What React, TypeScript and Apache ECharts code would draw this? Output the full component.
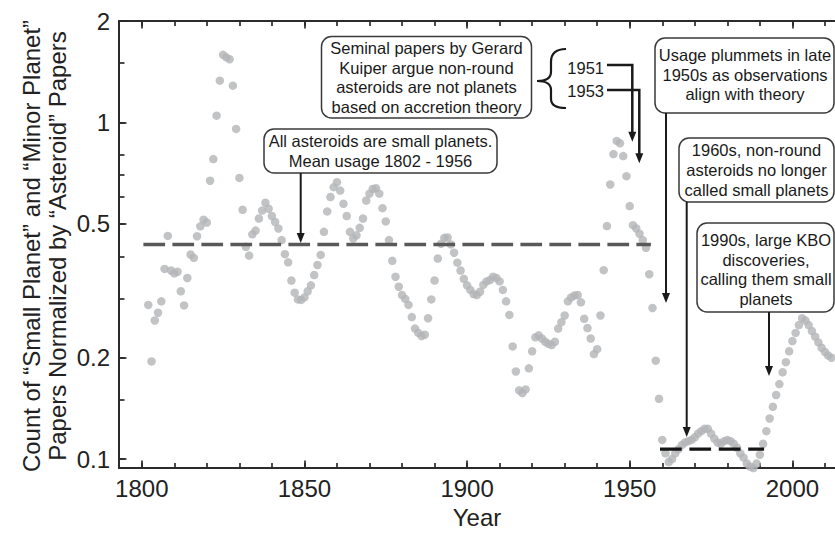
import React, { useEffect, useRef } from "react";
import * as echarts from "echarts";

const FIRST_YEAR = 1802;
// Count of "Small Planet" and "Minor Planet" papers normalized by "Asteroid" papers, 1802-2012
const usageRatio: number[] = [
  0.287, 0.195, 0.258, 0.272, 0.294, 0.367, 0.46, 0.363, 0.356, 0.36, // 1802-1811
  0.315, 0.286, 0.345, 0.405, 0.396, 0.459, 0.491, 0.514, 0.504, 0.671, // 1812-1821
  0.778, 1.047, 1.33, 1.587, 1.56, 1.54, 1.285, 0.956, 0.684, 0.55, // 1822-1831
  0.427, 0.402, 0.465, 0.477, 0.518, 0.547, 0.577, 0.554, 0.527, 0.506, // 1832-1841
  0.484, 0.447, 0.406, 0.384, 0.339, 0.312, 0.298, 0.297, 0.302, 0.315, // 1842-1851
  0.328, 0.352, 0.377, 0.404, 0.473, 0.544, 0.6, 0.642, 0.664, 0.627, // 1852-1861
  0.573, 0.527, 0.473, 0.452, 0.462, 0.486, 0.518, 0.586, 0.614, 0.634, // 1862-1871
  0.637, 0.614, 0.556, 0.508, 0.447, 0.388, 0.348, 0.325, 0.307, 0.299, // 1872-1881
  0.287, 0.264, 0.244, 0.237, 0.232, 0.234, 0.262, 0.298, 0.339, 0.394, // 1882-1891
  0.436, 0.454, 0.455, 0.434, 0.41, 0.383, 0.363, 0.343, 0.328, 0.318, // 1892-1901
  0.309, 0.307, 0.314, 0.329, 0.337, 0.34, 0.348, 0.345, 0.337, 0.318, // 1902-1911
  0.294, 0.268, 0.216, 0.182, 0.16, 0.157, 0.161, 0.186, 0.209, 0.23, // 1912-1921
  0.233, 0.228, 0.223, 0.22, 0.218, 0.223, 0.244, 0.255, 0.267, 0.294, // 1922-1931
  0.302, 0.306, 0.307, 0.292, 0.261, 0.245, 0.228, 0.205, 0.212, 0.267, // 1932-1941
  0.364, 0.492, 0.654, 0.805, 0.881, 0.867, 0.794, 0.692, 0.564, 0.495, // 1942-1951
  0.484, 0.467, 0.447, 0.424, 0.354, 0.281, 0.196, 0.151, 0.114, 0.104, // 1952-1961
  0.098, 0.1, 0.104, 0.107, 0.11, 0.112, 0.113, 0.114, 0.116, 0.119, // 1962-1971
  0.121, 0.123, 0.123, 0.119, 0.115, 0.112, 0.111, 0.113, 0.114, 0.113, // 1972-1981
  0.111, 0.108, 0.104, 0.101, 0.097, 0.095, 0.094, 0.097, 0.103, 0.111, // 1982-1991
  0.121, 0.132, 0.143, 0.155, 0.167, 0.181, 0.194, 0.209, 0.224, 0.237, // 1992-2001
  0.25, 0.262, 0.258, 0.25, 0.24, 0.231, 0.222, 0.214, 0.208, 0.203, // 2002-2011
  0.2, // 2012
];
const years = usageRatio.map((_, i) => FIRST_YEAR + i);

// Mean usage 1802-1956 and the 1960-1990 level
const meanUsageYears = [1800.5, 1956.5];
const meanUsageValue = 0.434;
const lowUsageYears = [1959.3, 1991.3];
const lowUsageValue = 0.107;

// Axis ticks and labels
const xMinorTicks = [1800, 1810, 1820, 1830, 1840, 1850, 1860, 1870, 1880, 1890, 1900, 1910, 1920, 1930, 1940, 1950, 1960, 1970, 1980, 1990, 2000, 2010];
const xMajorTicks = [1800, 1850, 1900, 1950, 2000];
const yMinorTicks = [0.1, 0.15, 0.2, 0.3, 0.4, 0.5, 0.6, 0.7, 0.8, 1, 1.5, 2];
const yMajorTicks = [0.1, 0.2, 0.5, 1, 2];

const FONT = '"Liberation Sans", Arial, Helvetica, sans-serif';
const AXIS = "#2b2b2b";
const INK = "#1a1a1a";
const BOX = "#3a3a3a";

const BRACE_PATH =
  "M566,49 C556,49 551,53 551,62 L551,72 C551,78 546,81 537,81 C546,81 551,84 551,90 L551,99 C551,105 556,108 566,108";

function box(x: number, y: number, w: number, h: number) {
  return {
    type: "rect",
    shape: { x, y, width: w, height: h, r: 10 },
    style: { fill: "#ffffff", stroke: BOX, lineWidth: 1.5 },
    z: 100,
  };
}
function note(x: number, y: number, text: string) {
  return {
    type: "text",
    x,
    y,
    style: {
      text,
      font: `16.5px ${FONT}`,
      fill: INK,
      align: "center",
      verticalAlign: "middle",
      lineHeight: 19.8,
    },
    z: 101,
  };
}
function head(x: number, tipY: number) {
  return {
    type: "polygon",
    shape: { points: [[x - 4, tipY - 10], [x + 4, tipY - 10], [x, tipY]] },
    style: { fill: INK },
    z: 100,
  };
}
function arrow(x: number, y1: number, tipY: number, width = 2) {
  return [
    { type: "line", shape: { x1: x, y1, x2: x, y2: tipY - 8 }, style: { stroke: INK, lineWidth: width }, z: 100 },
    head(x, tipY),
  ];
}
function elbow(x0: number, y: number, x: number, tipY: number) {
  return [
    {
      type: "polyline",
      shape: { points: [[x0, y], [x, y], [x, tipY - 8]] },
      style: { stroke: INK, lineWidth: 2.5, fill: null },
      z: 100,
    },
    head(x, tipY),
  ];
}

function xAxisBase(position: string) {
  return {
    type: "value",
    min: 1793,
    max: 2013.1,
    position,
    splitLine: { show: false },
    axisLine: { show: false, onZero: false },
    axisLabel: { show: false },
    axisTick: { show: false },
  };
}
function yAxisBase() {
  return {
    type: "log",
    logBase: 10,
    min: 0.094,
    max: 2,
    position: "left",
    splitLine: { show: false },
    axisLine: { show: false, onZero: false },
    axisLabel: { show: false },
    axisTick: { show: false },
  };
}
const tickStyle = { color: AXIS, width: 1.7 };
const axisLineStyle = { color: AXIS, width: 2 };
const labelStyle = { fontSize: 24, color: "#222", fontFamily: FONT };

export default function App() {
  const ref = useRef<HTMLDivElement>(null);
  useEffect(() => {
    if (!ref.current) return;
    try {
      echarts.graphic.registerShape("brace", echarts.graphic.extendPath(BRACE_PATH, {}));
    } catch (e) {
      /* already registered */
    }
    const chart = echarts.init(ref.current, null, { renderer: "svg" });
    const option: any = {
      animation: false,
      grid: { left: 119, right: 0, top: 21, bottom: 63, containLabel: false },
      xAxis: [
        {
          ...xAxisBase("bottom"),
          axisLine: { show: true, onZero: false, lineStyle: axisLineStyle },
          axisTick: { show: true, inside: true, length: 5, customValues: xMinorTicks, lineStyle: tickStyle },
          axisLabel: {
            show: true,
            customValues: xMajorTicks,
            margin: 8,
            formatter: (v: number) => String(Math.round(v)),
            ...labelStyle,
          },
          name: "Year",
          nameLocation: "middle",
          nameGap: 36,
          nameTextStyle: labelStyle,
        },
        {
          ...xAxisBase("bottom"),
          axisTick: { show: true, inside: true, length: 7.5, customValues: xMajorTicks, lineStyle: tickStyle },
        },
        {
          ...xAxisBase("top"),
          axisLine: { show: true, onZero: false, lineStyle: axisLineStyle },
          axisTick: { show: true, inside: true, length: 5, customValues: xMinorTicks, lineStyle: tickStyle },
        },
        {
          ...xAxisBase("top"),
          axisTick: { show: true, inside: true, length: 7.5, customValues: xMajorTicks, lineStyle: tickStyle },
        },
      ],
      yAxis: [
        {
          ...yAxisBase(),
          axisLine: { show: true, onZero: false, lineStyle: axisLineStyle },
          axisTick: { show: true, inside: true, length: 5.5, customValues: yMinorTicks, lineStyle: tickStyle },
          axisLabel: {
            show: true,
            customValues: yMajorTicks,
            margin: 9,
            formatter: (v: number) => String(+Number(v).toPrecision(6)),
            ...labelStyle,
          },
        },
        {
          ...yAxisBase(),
          axisTick: { show: true, inside: true, length: 7.5, customValues: yMajorTicks, lineStyle: tickStyle },
        },
      ],
      series: [
        {
          type: "scatter",
          xAxisIndex: 0,
          yAxisIndex: 0,
          symbol: "circle",
          symbolSize: 8.5,
          clip: false,
          silent: true,
          itemStyle: { color: "#b3b4b7" },
          data: years.map((yr, i) => [yr, usageRatio[i]]),
          z: 2,
        },
        {
          type: "line",
          xAxisIndex: 0,
          yAxisIndex: 0,
          symbol: "none",
          silent: true,
          lineStyle: { color: "#595959", width: 3.5, type: [21.7, 7.3] },
          data: meanUsageYears.map((yr) => [yr, meanUsageValue]),
          z: 3,
        },
        {
          type: "line",
          xAxisIndex: 0,
          yAxisIndex: 0,
          symbol: "none",
          silent: true,
          lineStyle: { color: "#151515", width: 3.3, type: [21.7, 7.7] },
          data: lowUsageYears.map((yr) => [yr, lowUsageValue]),
          z: 3,
        },
      ],
      graphic: [
        {
          type: "text",
          x: 44,
          y: 246,
          rotation: Math.PI / 2,
          style: {
            text: "Count of “Small Planet” and “Minor Planet”\nPapers Normalized by “Asteroid” Papers",
            font: `24px ${FONT}`,
            fill: "#222",
            align: "center",
            verticalAlign: "middle",
            lineHeight: 26,
          },
        },
        // Kuiper box with brace and 1951/1953 arrows
        box(321.5, 36.5, 210, 81.5),
        note(426.5, 77.5, "Seminal papers by Gerard\nKuiper argue non-round\nasteroids are not planets\nbased on accretion theory"),
        { type: "brace", x: 0, y: 0, style: { stroke: INK, fill: null, lineWidth: 2.2 }, z: 100 },
        {
          type: "text",
          x: 604,
          y: 68,
          style: { text: "1951", font: `16.5px ${FONT}`, fill: INK, align: "right", verticalAlign: "middle" },
          z: 101,
        },
        {
          type: "text",
          x: 604,
          y: 91,
          style: { text: "1953", font: `16.5px ${FONT}`, fill: INK, align: "right", verticalAlign: "middle" },
          z: 101,
        },
        ...elbow(607, 65, 632.3, 141.7),
        ...elbow(607, 90, 639.3, 163.3),
        // Mean usage box
        box(264, 129, 233, 44),
        note(380.5, 151, "All asteroids are small planets.\nMean usage 1802 - 1956"),
        ...arrow(300.7, 173, 243),
        // Usage plummets
        box(655, 38, 179, 75),
        note(745, 74.5, "Usage plummets in late\n1950s as observations\nalign with theory"),
        ...arrow(666, 113, 303),
        // 1960s
        box(679, 138, 155, 64),
        note(756.5, 170, "1960s, non-round\nasteroids no longer\ncalled small planets"),
        ...arrow(686.7, 202, 437),
        // 1990s
        box(697, 223, 137, 89),
        note(766, 269.5, "1990s, large KBO\ndiscoveries,\ncalling them small\nplanets"),
        ...arrow(769, 312, 376),
      ],
    };
    chart.setOption(option);
    return () => chart.dispose();
  }, []);
  return <div ref={ref} style={{ position: "absolute", left: 0, top: 0, width: 835, height: 534 }} />;
}
